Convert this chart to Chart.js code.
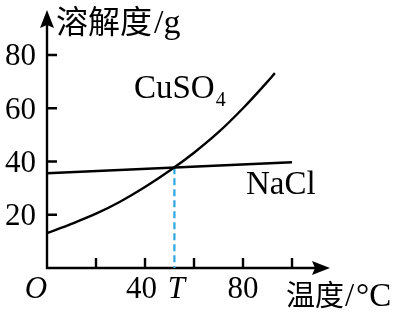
<!DOCTYPE html>
<html>
<head>
<meta charset="utf-8">
<script src="https://cdn.jsdelivr.net/npm/chart.js@4/dist/chart.umd.min.js"></script>
<style>
  body { margin: 0; background: #fff; }
  #wrap { width: 401px; height: 314px; }
</style>
</head>
<body>
<div id="wrap"><canvas id="chartCanvas" width="401" height="314"></canvas></div>
<script>
// temperature (°C) and solubility (g)
const temps = [0, 10, 20, 30, 40, 50, 60, 70, 80, 90, 93];
const cuso4 = [13.1, 16.6, 20.4, 25, 30.4, 36.5, 43.3, 51, 60, 70, 73.2];
const naclTemps = [0, 100];
const nacl = [35.6, 39.7];
const yTicks = [20, 40, 60, 80];
const xTicks = [20, 40, 60, 80, 100];
const xTickLabels = [40, 80];
const tTemp = 52;
const tSol = 37.8;

const serif = '"Liberation Serif", "Times New Roman", serif';
const cjk = '"Noto Sans CJK SC", sans-serif';

const axesPlugin = {
    id: 'axesPlugin',
    beforeDatasetsDraw(chart) {
        const ctx = chart.ctx;
        const xs = chart.scales.x;
        const ys = chart.scales.y;
        const x0 = xs.getPixelForValue(0);
        const y0 = ys.getPixelForValue(0);
        const top = chart.chartArea.top;
        const right = chart.chartArea.right;

        ctx.save();
        ctx.strokeStyle = '#000';
        ctx.fillStyle = '#000';
        ctx.lineWidth = 2.4;

        // axis lines
        ctx.beginPath();
        ctx.moveTo(x0, y0);
        ctx.lineTo(x0, top + 12);
        ctx.moveTo(x0 - 1.2, y0);
        ctx.lineTo(right - 12, y0);
        ctx.stroke();

        // arrow heads
        ctx.beginPath();
        ctx.moveTo(x0, top);
        ctx.lineTo(x0 - 7, top + 18);
        ctx.lineTo(x0, top + 15);
        ctx.lineTo(x0 + 7, top + 18);
        ctx.closePath();
        ctx.fill();
        ctx.beginPath();
        ctx.moveTo(right, y0);
        ctx.lineTo(right - 18, y0 - 7);
        ctx.lineTo(right - 15, y0);
        ctx.lineTo(right - 18, y0 + 7);
        ctx.closePath();
        ctx.fill();

        // inward ticks
        ctx.beginPath();
        yTicks.forEach(v => {
            const y = ys.getPixelForValue(v);
            ctx.moveTo(x0, y);
            ctx.lineTo(x0 + 10, y);
        });
        xTicks.forEach(v => {
            const x = xs.getPixelForValue(v);
            ctx.moveTo(x, y0);
            ctx.lineTo(x, y0 - 10);
        });
        ctx.stroke();

        // dashed guide at T
        const tx = xs.getPixelForValue(tTemp);
        ctx.strokeStyle = '#2ea6de';
        ctx.lineWidth = 2.2;
        ctx.setLineDash([7, 4]);
        ctx.beginPath();
        ctx.moveTo(tx, ys.getPixelForValue(tSol));
        ctx.lineTo(tx, y0);
        ctx.stroke();
        ctx.restore();
    },
    afterDraw(chart) {
        const ctx = chart.ctx;
        const xs = chart.scales.x;
        const ys = chart.scales.y;
        const x0 = xs.getPixelForValue(0);
        const y0 = ys.getPixelForValue(0);

        ctx.save();
        ctx.fillStyle = '#000';
        ctx.textBaseline = 'alphabetic';

        // y tick labels
        ctx.font = '31px ' + serif;
        ctx.textAlign = 'right';
        yTicks.forEach(v => {
            ctx.fillText(String(v), 36, ys.getPixelForValue(v) + 10.5);
        });

        // x tick labels
        ctx.textAlign = 'right';
        ctx.fillText(String(xTickLabels[0]), xs.getPixelForValue(xTickLabels[0]) + 12, y0 + 30);
        ctx.textAlign = 'center';
        ctx.fillText(String(xTickLabels[1]), xs.getPixelForValue(xTickLabels[1]), y0 + 30);

        ctx.font = 'italic 31px ' + serif;
        ctx.textAlign = 'center';
        ctx.fillText('T', xs.getPixelForValue(tTemp) + 2, y0 + 30);
        ctx.fillText('O', x0 - 11, y0 + 30);

        // axis titles
        ctx.textAlign = 'left';
        ctx.font = '32px ' + cjk;
        ctx.fillText('溶解度', 56, 33);
        ctx.font = '34px ' + serif;
        ctx.fillText('/g', 154, 33);

        ctx.font = '29px ' + cjk;
        ctx.fillText('温度', 286, 306);
        ctx.font = '33px ' + serif;
        ctx.fillText('/', 345, 306);
        ctx.fillText('°C', 356, 306);

        // series labels
        ctx.font = '33px ' + serif;
        ctx.fillText('CuSO', 134, 98);
        const w = ctx.measureText('CuSO').width;
        ctx.font = '20px ' + serif;
        ctx.fillText('4', 134 + w + 1, 106);
        ctx.font = '33px ' + serif;
        ctx.fillText('NaCl', 246, 194);
        ctx.restore();
    }
};

const ctx = document.getElementById('chartCanvas').getContext('2d');
const chartInstance = new Chart(ctx, {
    type: 'line',
    data: {
        datasets: [{
            label: 'CuSO4',
            data: temps.map((t, i) => ({ x: t, y: cuso4[i] })),
            borderColor: '#000',
            borderWidth: 2.4,
            pointRadius: 0,
            cubicInterpolationMode: 'monotone',
            fill: false
        }, {
            label: 'NaCl',
            data: naclTemps.map((t, i) => ({ x: t, y: nacl[i] })),
            borderColor: '#000',
            borderWidth: 2.4,
            pointRadius: 0,
            fill: false
        }]
    },
    options: {
        responsive: false,
        animation: false,
        layout: {
            padding: { left: 47, top: 10, right: 71, bottom: 46 }
        },
        plugins: {
            legend: { display: false },
            tooltip: { enabled: false }
        },
        scales: {
            x: { type: 'linear', min: 0, max: 115.5, display: false },
            y: { min: 0, max: 96.9, display: false }
        }
    },
    plugins: [axesPlugin]
});
</script>
</body>
</html>
